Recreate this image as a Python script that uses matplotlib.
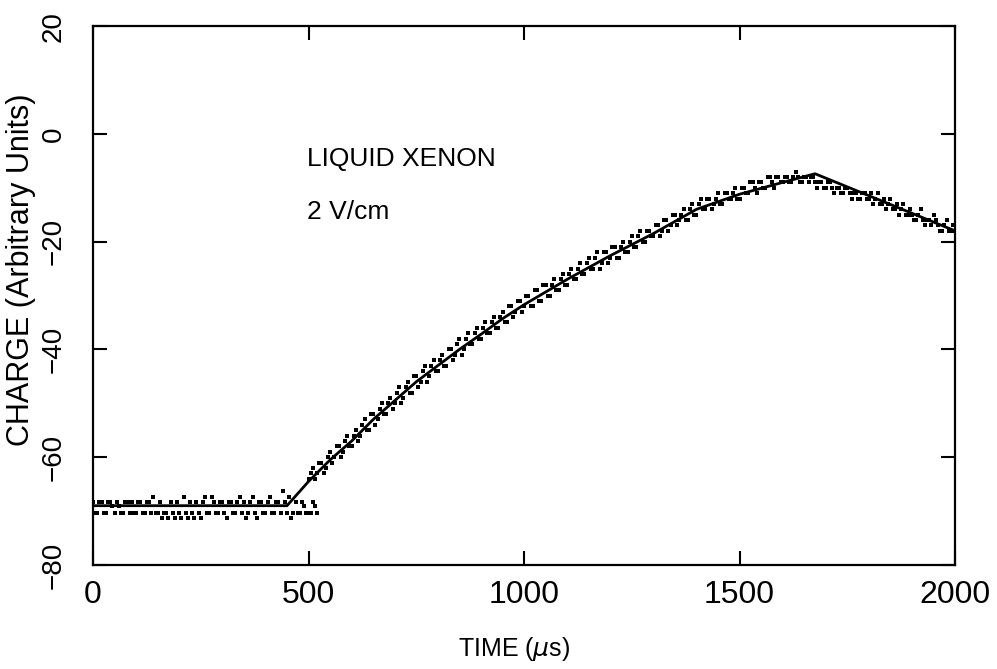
import numpy as np
import matplotlib
matplotlib.use("Agg")
import matplotlib.pyplot as plt

plt.rcParams['font.family'] = ['Liberation Sans', 'DejaVu Sans']

# Baseline samples (0..520 us, step 10) and interleaved samples (5..515 us)
base_t = np.arange(0, 521, 10)
base_q = [-68.3, -70.3, -68.3, -70.3, -68.3, -70.3, -69.0, -70.3, -68.3, -68.3,
          -70.3, -68.3, -70.3, -68.3, -67.3, -70.3, -71.3, -70.3, -68.3, -71.3,
          -70.3, -67.3, -71.3, -70.3, -68.3, -71.3, -67.3, -70.3, -68.3, -70.3,
          -68.3, -71.3, -68.3, -70.3, -67.3, -68.3, -70.3, -67.3, -71.3, -68.3,
          -70.3, -67.3, -70.3, -68.3, -66.3, -70.3, -71.3, -68.3, -70.3, -69.0,
          -70.3, -68.3, -70.3]
base_t2 = np.arange(5, 516, 10)
base_q2 = [-70.3, -68.3, -70.3, -68.3, -69.0, -68.3, -70.3, -68.3, -70.3, -70.3,
           -68.3, -70.3, -68.3, -70.3, -70.3, -68.3, -70.3, -71.3, -70.3, -68.3,
           -71.3, -70.3, -68.3, -71.3, -70.3, -68.3, -70.3, -67.3, -70.3, -68.3,
           -70.3, -68.3, -70.3, -68.3, -70.3, -71.3, -68.3, -70.3, -68.3, -70.3,
           -68.3, -70.3, -68.3, -70.3, -68.3, -67.3, -70.3, -70.3, -68.3, -70.3,
           -70.3, -69.0]

# Signal samples (500..2000 us, step 10) and interleaved samples (505..1995 us)
sig_t = np.arange(500, 2001, 10)
sig_q = [-64, -62, -63, -61, -62, -59, -60, -58, -59, -56,
         -58, -55, -56, -53, -55, -52, -53, -50, -52, -49,
         -50, -47, -49, -46, -48, -45, -46, -43, -45, -42,
         -44, -41, -43, -40, -41, -38, -40, -37, -39, -36,
         -38, -35, -37, -34, -36, -33, -35, -32, -33, -31,
         -32, -30, -32, -29, -31, -28, -30, -27, -29, -26,
         -28, -25, -27, -24, -26, -23, -25, -22, -24, -22,
         -23, -21, -23, -20, -22, -19, -21, -18, -20, -18,
         -19, -17, -18, -16, -17, -15, -16, -14, -16, -13,
         -15, -12, -14, -12, -13, -11, -13, -11, -12, -10,
         -12, -10, -11, -9, -11, -9, -10, -8, -10, -8,
         -9, -8, -9, -7, -9, -8, -9, -8, -10, -9,
         -10, -9, -11, -10, -11, -10, -12, -11, -12, -11,
         -12, -13, -11, -13, -14, -12, -14, -15, -13, -15,
         -15, -16, -14, -17, -16, -15, -17, -18, -16, -18,
         -18]
sig_t2 = np.arange(505, 2000, 10)
sig_q2 = [-63, -64, -61, -63, -60, -61, -58, -60, -57, -58,
          -56, -57, -54, -55, -52, -54, -51, -52, -50, -51,
          -48, -50, -47, -48, -45, -47, -44, -46, -43, -44,
          -42, -43, -40, -42, -39, -41, -38, -39, -37, -38,
          -36, -37, -35, -36, -34, -35, -32, -34, -31, -33,
          -30, -32, -29, -31, -28, -30, -28, -29, -27, -28,
          -26, -27, -25, -26, -24, -25, -23, -25, -22, -24,
          -21, -23, -21, -22, -20, -21, -19, -20, -18, -19,
          -17, -19, -16, -18, -15, -17, -15, -16, -14, -15,
          -13, -14, -12, -14, -12, -13, -11, -12, -11, -12,
          -10, -11, -9, -10, -9, -10, -8, -9, -8, -9,
          -8, -9, -8, -8, -9, -8, -8, -9, -9, -10,
          -9, -10, -10, -11, -10, -11, -11, -12, -11, -12,
          -11, -12, -13, -12, -13, -14, -13, -14, -15, -14,
          -16, -15, -16, -16, -17, -16, -18, -17, -18, -17]

# Fit curve knots
fit_t = [0, 450, 500, 550, 600, 650, 700, 750, 800, 850, 900, 950, 1000,
         1100, 1200, 1300, 1400, 1500, 1600, 1675, 2000]
fit_q = [-69.0, -69.0, -64.5, -60.5, -57.0, -53.0, -49.5, -46.0, -43.0, -40.0,
         -37.2, -34.3, -31.7, -27.0, -22.6, -18.5, -14.0, -11.2, -9.0, -7.4, -18.0]

x_ticks = [0, 500, 1000, 1500, 2000]
y_ticks = [-80, -60, -40, -20, 0, 20]

fig = plt.figure(figsize=(9.97, 6.69), dpi=100)
ax = fig.add_axes([0.0933, 0.1555, 0.8647, 0.8055])

for tt, qq in ((base_t, base_q), (base_t2, base_q2), (sig_t, sig_q), (sig_t2, sig_q2)):
    ax.plot(tt, qq, linestyle='none', marker='s', ms=2.8, color='black', mew=0)
ax.plot(fit_t, fit_q, color='black', lw=2.0)

ax.set_xlim(0, 2000)
ax.set_ylim(-80, 20)
ax.set_xticks(x_ticks)
ax.set_yticks(y_ticks)
ax.set_yticklabels([str(v).replace('-', '\u2212') for v in y_ticks],
                   rotation=90, va='center')
ax.tick_params(direction='in', length=10, width=1.5, top=True, right=True)
ax.tick_params(axis='x', pad=11, labelsize=23)
ax.tick_params(axis='y', pad=19, labelsize=20)
for s in ax.spines.values():
    s.set_linewidth(1.6)

ax.set_xlabel('TIME ($\\mu$s)', fontsize=18)
ax.xaxis.set_label_coords(0.488, -0.13)
ax.set_ylabel('CHARGE (Arbitrary Units)', fontsize=22)
ax.yaxis.set_label_coords(-0.066, 0.547)

ax.text(497, -4.6, 'LIQUID XENON', fontsize=19, va='center', ha='left')
ax.text(497, -14.5, '2 V/cm', fontsize=19, va='center', ha='left')

fig.savefig('out.png', dpi=100)
